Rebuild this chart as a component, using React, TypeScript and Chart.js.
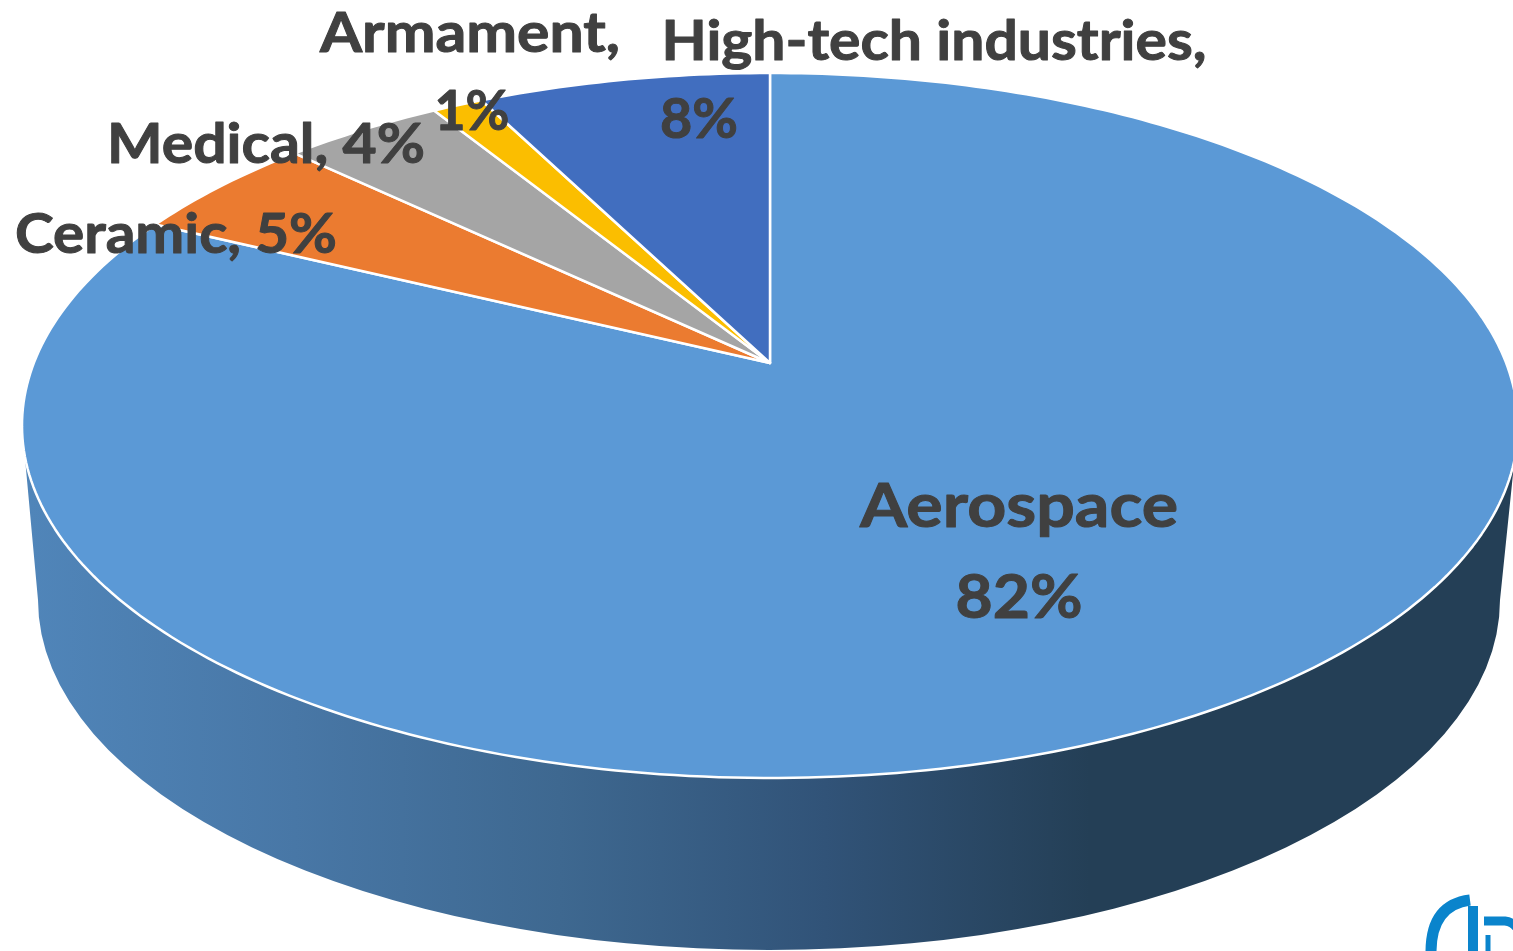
import React, { useEffect, useRef } from "react";
import { Chart, registerables } from "chart.js";

Chart.register(...registerables);

const categories = ["Aerospace", "Ceramic", "Medical", "Armament", "High-tech industries"];
const shares = [82.2, 4.9, 4.1, 1.3, 7.5];
const sliceColors = ["#5b99d6", "#eb7b30", "#a5a5a5", "#fbbe00", "#416ebf"];

const TEXT_COLOR = "#404040";

// Top face of the disc, seen in perspective: an ellipse whose apex sits above its centre.
const TOP = { cx: 770, cy: 425.5, rx: 748, ry: 352.5, apexY: 363 };
const BOTTOM = { cx: 769, cy: 600, rx: 731, ry: 350 };

const perspective = (theta: number) => {
  const a = (TOP.cy - TOP.apexY) / TOP.ry;
  const X = Math.cos(theta);
  const Y = Math.sin(theta);
  const d = 1 - a * Y;
  return {
    x: TOP.cx + (TOP.rx * X * Math.sqrt(1 - a * a)) / d,
    y: TOP.cy + (TOP.ry * (Y - a)) / d,
  };
};

const drawWall = (ctx: CanvasRenderingContext2D) => {
  const g = ctx.createLinearGradient(30, 0, 1090, 0);
  g.addColorStop(0, "#5085b9");
  g.addColorStop(0.25, "#4877a6");
  g.addColorStop(0.5, "#3e6890");
  g.addColorStop(0.75, "#315378");
  g.addColorStop(1, "#243f56");
  ctx.beginPath();
  ctx.moveTo(TOP.cx - TOP.rx, TOP.cy);
  ctx.lineTo(BOTTOM.cx - BOTTOM.rx, BOTTOM.cy);
  ctx.ellipse(BOTTOM.cx, BOTTOM.cy, BOTTOM.rx, BOTTOM.ry, 0, Math.PI, 0, true);
  ctx.lineTo(TOP.cx + TOP.rx, TOP.cy);
  ctx.closePath();
  ctx.fillStyle = g;
  ctx.fill();
};

const drawLogo = (ctx: CanvasRenderingContext2D) => {
  ctx.strokeStyle = "#0a84cc";
  ctx.lineCap = "butt";
  ctx.lineWidth = 11;
  ctx.beginPath();
  ctx.moveTo(1431, 952);
  ctx.quadraticCurveTo(1431, 905, 1470, 900);
  ctx.stroke();
  ctx.lineWidth = 10;
  ctx.beginPath();
  ctx.moveTo(1473, 906);
  ctx.lineTo(1473, 952);
  ctx.stroke();
  ctx.lineWidth = 9;
  ctx.beginPath();
  ctx.moveTo(1484, 921);
  ctx.lineTo(1505, 921);
  ctx.quadraticCurveTo(1514, 922, 1518, 930);
  ctx.stroke();
  ctx.lineWidth = 5;
  ctx.beginPath();
  ctx.moveTo(1488, 935);
  ctx.lineTo(1488, 952);
  ctx.stroke();
};

const pct = (i: number) => `${Math.round(shares[i])}%`;

// Draw a label centred on cx and stretched sideways to the width it has in the reference.
const fitText = (
  ctx: CanvasRenderingContext2D,
  text: string,
  cx: number,
  baseline: number,
  size: number,
  width: number
) => {
  ctx.save();
  ctx.font = `bold ${size}px Lato, "Open Sans", sans-serif`;
  const k = width / ctx.measureText(text).width;
  ctx.translate(cx, baseline);
  ctx.scale(k, 1);
  ctx.fillText(text, 0, 0);
  ctx.strokeText(text, 0, 0);
  ctx.restore();
};

const drawLabels = (ctx: CanvasRenderingContext2D) => {
  ctx.fillStyle = TEXT_COLOR;
  ctx.strokeStyle = TEXT_COLOR;
  ctx.lineWidth = 1;
  ctx.lineJoin = "round";
  ctx.textAlign = "center";
  ctx.textBaseline = "alphabetic";
  fitText(ctx, categories[0], 1019, 527, 61, 318);
  fitText(ctx, pct(0), 1019, 618, 61, 127);
  fitText(ctx, `${categories[1]}, ${pct(1)}`, 176, 253, 56, 322);
  fitText(ctx, `${categories[2]}, ${pct(2)}`, 266, 163, 56, 318);
  fitText(ctx, `${categories[3]},`, 470, 52, 56, 300);
  fitText(ctx, pct(3), 472, 130, 56, 75);
  fitText(ctx, `${categories[4]},`, 934, 60, 56, 545);
  fitText(ctx, pct(4), 699, 138, 56, 78);
};

const perspectivePie = {
  id: "perspectivePie",
  beforeDatasetDraw: () => false,
  afterDatasetsDraw(chart: any) {
    const ctx: CanvasRenderingContext2D = chart.ctx;
    const arcs = chart.getDatasetMeta(0).data;
    ctx.save();
    drawWall(ctx);
    arcs.forEach((arc: any, i: number) => {
      const steps = Math.max(8, Math.ceil((arc.endAngle - arc.startAngle) * 60));
      ctx.beginPath();
      ctx.moveTo(TOP.cx, TOP.apexY);
      for (let s = 0; s <= steps; s++) {
        const p = perspective(arc.startAngle + ((arc.endAngle - arc.startAngle) * s) / steps);
        ctx.lineTo(p.x, p.y);
      }
      ctx.closePath();
      ctx.fillStyle = sliceColors[i];
      ctx.fill();
      ctx.strokeStyle = "#ffffff";
      ctx.lineWidth = 2.5;
      ctx.lineJoin = "round";
      ctx.stroke();
    });
    drawLabels(ctx);
    drawLogo(ctx);
    ctx.restore();
  },
};

export default function App() {
  const ref = useRef<HTMLCanvasElement>(null);
  useEffect(() => {
    const chart = new Chart(ref.current as HTMLCanvasElement, {
      type: "pie",
      data: {
        labels: categories,
        datasets: [{ data: shares, backgroundColor: sliceColors, borderColor: "#ffffff" }],
      },
      options: {
        animation: false,
        responsive: false,
        rotation: 0,
        plugins: { legend: { display: false }, tooltip: { enabled: false } },
      },
      plugins: [perspectivePie],
    } as any);
    return () => chart.destroy();
  }, []);
  return (
    <div style={{ position: "fixed", left: 0, top: 0, width: 1513, height: 951, background: "#fff" }}>
      <canvas ref={ref} width={1513} height={951} style={{ display: "block" }} />
    </div>
  );
}
